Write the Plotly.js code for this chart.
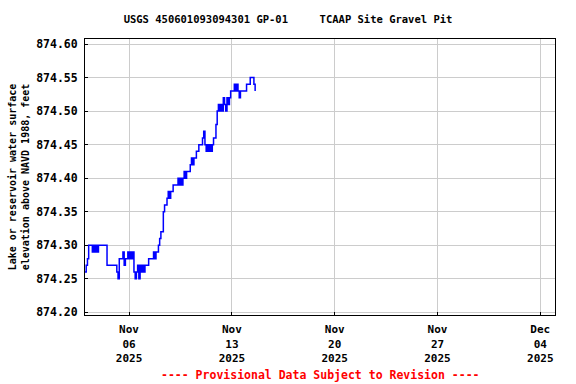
<!DOCTYPE html>
<html>
<head>
<meta charset="utf-8">
<script src="https://cdn.plot.ly/plotly-3.0.1.min.js"></script>
<style>html,body{margin:0;padding:0;background:#fff;}#chart{width:576px;height:384px;}</style>
</head>
<body>
<div id="chart"></div>
<script>
// Sampling grid of the series (2-hourly readings starting Nov 3, 2025 00:00)
const startTime = Date.UTC(2025, 10, 3, 0, 0);
const stepHours = 2;

// Water surface elevation, feet
const elevation = [
  874.26, 874.27, 874.28, 874.30, 874.30, 874.30, 874.29, 874.30, 874.29, 874.30,
  874.29, 874.30, 874.30, 874.30, 874.30, 874.30, 874.30, 874.30, 874.27, 874.27,
  874.27, 874.27, 874.27, 874.27, 874.27, 874.27, 874.26, 874.25, 874.28, 874.28,
  874.28, 874.29, 874.27, 874.28, 874.28, 874.29, 874.28, 874.29, 874.28, 874.29,
  874.26, 874.25, 874.26, 874.27, 874.25, 874.27, 874.26, 874.27, 874.26, 874.27,
  874.27, 874.27, 874.28, 874.28, 874.28, 874.28, 874.29, 874.28, 874.29, 874.29,
  874.30, 874.31, 874.32, 874.32, 874.35, 874.36, 874.36, 874.37, 874.38, 874.37,
  874.38, 874.38, 874.39, 874.39, 874.39, 874.39, 874.40, 874.39, 874.40, 874.39,
  874.40, 874.41, 874.40, 874.41, 874.41, 874.41, 874.42, 874.43, 874.42, 874.43,
  874.43, 874.44, 874.44, 874.45, 874.45, 874.45, 874.46, 874.47, 874.45, 874.44,
  874.45, 874.44, 874.45, 874.44, 874.45, 874.46, 874.46, 874.48, 874.50, 874.51,
  874.50, 874.51, 874.50, 874.52, 874.51, 874.50, 874.52, 874.51, 874.52, 874.53,
  874.53, 874.53, 874.54, 874.53, 874.54, 874.53, 874.52, 874.53, 874.53, 874.53,
  874.53, 874.53, 874.54, 874.54, 874.54, 874.55, 874.55, 874.55, 874.54, 874.53
];

// Axis ticks
const xTickDates = ['2025-11-06', '2025-11-13', '2025-11-20', '2025-11-27', '2025-12-04'];
const xTickMonths = ['Nov', 'Nov', 'Nov', 'Nov', 'Dec'];
const xTickDays = ['06', '13', '20', '27', '04'];
const xTickYears = ['2025', '2025', '2025', '2025', '2025'];
const xRange = ['2025-11-03', '2025-12-05'];
const yRange = [874.196, 874.6075];

const titleText = 'USGS 450601093094301 GP-01\u00a0\u00a0\u00a0\u00a0\u00a0TCAAP Site Gravel Pit';
const yTitleText = 'Lake or reservoir water surface<br>elevation above NAVD 1988, feet';
const footerText = '---- Provisional Data Subject to Revision ----';

const times = elevation.map((_, i) => new Date(startTime + i * stepHours * 3600000).toISOString().slice(0, 16));
const xTickText = xTickDates.map((_, i) => xTickMonths[i] + '<br>' + xTickDays[i] + '<br>' + xTickYears[i]);

const mono = 'DejaVu Sans Mono, Liberation Mono, monospace';

const trace = {
  x: times,
  y: elevation,
  type: 'scatter',
  mode: 'lines',
  line: {color: '#0000ff', width: 1.5, shape: 'hv'},
  hoverinfo: 'skip'
};

const layout = {
  width: 576,
  height: 384,
  margin: {l: 85, r: 21, t: 39, b: 69, pad: 0},
  paper_bgcolor: '#ffffff',
  plot_bgcolor: '#ffffff',
  showlegend: false,
  title: {
    text: titleText,
    font: {family: mono, size: 10.5, color: '#000000', weight: 'bold'},
    x: 0.5, xref: 'container', xanchor: 'center',
    y: 0.95, yref: 'container', yanchor: 'middle'
  },
  xaxis: {
    type: 'date',
    range: xRange,
    tickmode: 'array',
    tickvals: xTickDates,
    ticktext: xTickText,
    tickfont: {family: mono, size: 11, color: '#000000', weight: 'bold'},
    ticks: 'inside', ticklen: 3, tickcolor: '#000000',
    ticklabelstandoff: 4,
    showgrid: true, gridcolor: '#cccccc', gridwidth: 1,
    showline: true, linecolor: '#000000', linewidth: 1, mirror: true,
    zeroline: false
  },
  yaxis: {
    range: yRange,
    tick0: 874.2, dtick: 0.05,
    tickformat: '.2f',
    tickfont: {family: mono, size: 11.5, color: '#000000', weight: 'bold'},
    ticks: 'inside', ticklen: 3, tickcolor: '#000000',
    ticklabelstandoff: 4,
    showgrid: true, gridcolor: '#cccccc', gridwidth: 1,
    showline: true, linecolor: '#000000', linewidth: 1, mirror: true,
    zeroline: false,
    title: {
      text: yTitleText,
      font: {family: mono, size: 10, color: '#000000', weight: 'bold'},
      standoff: 4
    }
  },
  annotations: [{
    text: footerText,
    xref: 'paper', yref: 'paper',
    x: 0.5, y: -0.217,
    xanchor: 'center', yanchor: 'middle',
    showarrow: false,
    font: {family: mono, size: 11.5, color: '#ff0000', weight: 'bold'}
  }]
};

Plotly.newPlot('chart', [trace], layout, {displayModeBar: false, staticPlot: true});
</script>
</body>
</html>
